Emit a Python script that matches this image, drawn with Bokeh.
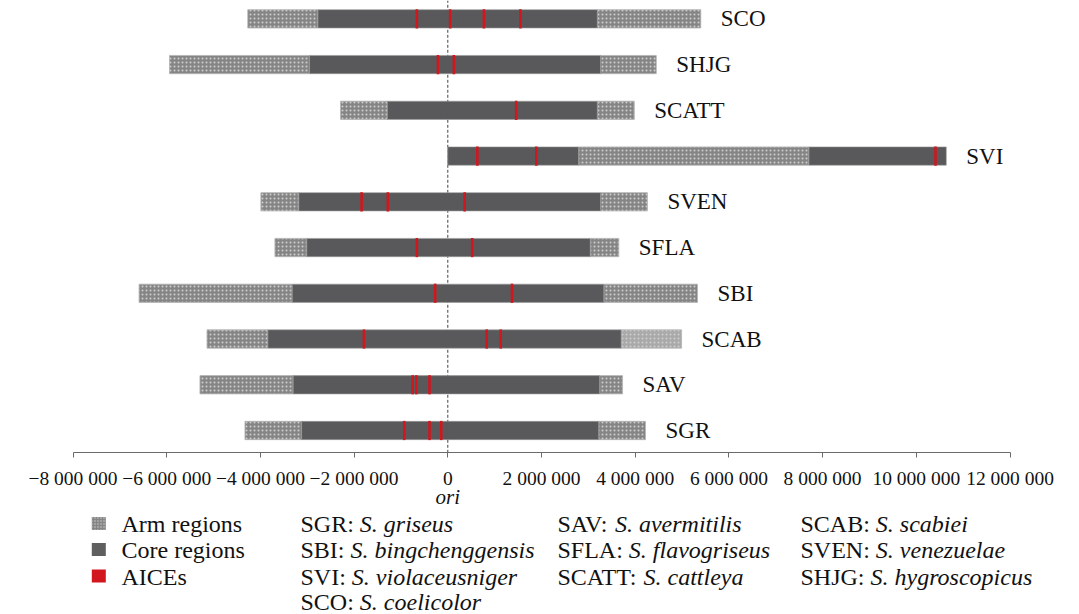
from bokeh.plotting import figure
from bokeh.models import Range1d, FixedTicker
from bokeh.core.properties import value
from bokeh.embed import file_html
from bokeh.resources import INLINE

# ---------------- data (bp) ----------------
genomes = ["SGR", "SAV", "SCAB", "SBI", "SFLA", "SVEN", "SVI", "SCATT", "SHJG", "SCO"]
left_arm_start = [-4.33e6, -5.29e6, -5.14e6, -6.59e6, -3.69e6, -3.99e6, 0.0, -2.29e6, -5.94e6, -4.27e6]
core_start = [-3.12e6, -3.30e6, -3.84e6, -3.32e6, -3.01e6, -3.18e6, 0.0, -1.29e6, -2.95e6, -2.77e6]
core_end = [3.22e6, 3.24e6, 3.70e6, 3.33e6, 3.04e6, 3.26e6, 2.79e6, 3.19e6, 3.26e6, 3.19e6]
right_arm_end = [4.22e6, 3.73e6, 4.99e6, 5.33e6, 3.65e6, 4.26e6, 7.71e6, 3.98e6, 4.45e6, 5.40e6]
# second core block of SVI (beyond its arm)
extra_core_genome = ["SVI"]
extra_core_start = [7.71e6]
extra_core_end = [10.64e6]

aice_genome = ["SGR", "SGR", "SGR",
               "SAV", "SAV", "SAV",
               "SCAB", "SCAB", "SCAB",
               "SBI", "SBI",
               "SFLA", "SFLA",
               "SVEN", "SVEN", "SVEN",
               "SVI", "SVI", "SVI",
               "SCATT",
               "SHJG", "SHJG",
               "SCO", "SCO", "SCO", "SCO"]
aice_pos = [-0.93e6, -0.39e6, -0.14e6,
            -0.75e6, -0.67e6, -0.39e6,
            -1.79e6, 0.83e6, 1.13e6,
            -0.27e6, 1.37e6,
            -0.66e6, 0.52e6,
            -1.84e6, -1.28e6, 0.36e6,
            0.63e6, 1.89e6, 10.41e6,
            1.46e6,
            -0.21e6, 0.13e6,
            -0.66e6, 0.05e6, 0.77e6, 1.55e6]

tick_values = [-8e6, -6e6, -4e6, -2e6, 0, 2e6, 4e6, 6e6, 8e6, 10e6, 12e6]
tick_labels = ["\u22128 000 000", "\u22126 000 000", "\u22124 000 000", "\u22122 000 000", "0",
               "2 000 000", "4 000 000", "6 000 000", "8 000 000", "10 000 000", "12 000 000"]
origin_label = "ori"

legend_keys = ["Arm regions", "Core regions", "AICEs"]
abbrev = ["SGR", "SBI", "SVI", "SCO", "SAV", "SFLA", "SCATT", "SCAB", "SVEN", "SHJG"]
species = ["S. griseus", "S. bingchenggensis", "S. violaceusniger", "S. coelicolor",
           "S. avermitilis", "S. flavogriseus", "S. cattleya",
           "S. scabiei", "S. venezuelae", "S. hygroscopicus"]

# ---------------- styles / layout ----------------
SERIF = "Liberation Serif"
CORE = "#59595b"
ARM = "#858585"
ARM_LIGHT = "#a9a9a9"
DOTS = "#cdcdcd"
RED = "#d2161e"
BAR_H = 0.40

W_PX, H_PX = 1079, 614
ORIGIN_PX, PX_PER_BP = 447.3, 46.85e-6      # horizontal placement of the scale
ROW0_PX, ROW_STEP_PX = 430.0, 45.74         # page y of first row, row spacing
AXIS_PX = 452.3
MID = 0.3375                                # em-box middle above the baseline


def row_y(py):
    """page pixel y -> row coordinate"""
    return (ROW0_PX - py) / ROW_STEP_PX


def col_x(px):
    """page pixel x -> bp coordinate"""
    return (px - ORIGIN_PX) / PX_PER_BP


idx = {g: i for i, g in enumerate(genomes)}

p = figure(width=W_PX, height=H_PX,
           x_range=Range1d(col_x(0), col_x(W_PX)), y_range=Range1d(row_y(H_PX), row_y(0)),
           output_backend="svg", toolbar_location=None, min_border=0,
           y_axis_location=None)
p.xgrid.visible = False
p.ygrid.visible = False
p.outline_line_color = None
p.background_fill_color = "#ffffff"

ys = list(range(len(genomes)))

# dashed origin line, from the axis up to the top
p.segment(x0=[0], y0=[row_y(AXIS_PX)], x1=[0], y1=[row_y(0)],
          line_dash="3 2", line_color="#444444", line_width=1)

# left arms
p.hbar(y=ys, left=left_arm_start, right=core_start, height=BAR_H,
       fill_color=ARM, line_color="#b5b5b5", line_width=0.8,
       hatch_pattern="dot", hatch_color=DOTS, hatch_scale=4, hatch_weight=1)
# right arms
arm_colors = [ARM_LIGHT if g == "SCAB" else ARM for g in genomes]
p.hbar(y=ys, left=core_end, right=right_arm_end, height=BAR_H,
       fill_color=arm_colors, line_color="#b5b5b5", line_width=0.8,
       hatch_pattern="dot", hatch_color=DOTS, hatch_scale=4, hatch_weight=1)
# core
p.hbar(y=ys, left=core_start, right=core_end, height=BAR_H,
       fill_color=CORE, line_color="#9a9a9a", line_width=0.6)
p.hbar(y=[idx[g] for g in extra_core_genome], left=extra_core_start, right=extra_core_end,
       height=BAR_H, fill_color=CORE, line_color="#9a9a9a", line_width=0.6)

# AICEs
p.rect(x=aice_pos, y=[idx[g] for g in aice_genome], width=2.6, width_units="screen",
       height=BAR_H + 0.02, fill_color=RED, line_color=None)

# genome labels at the right end of each bar
ends = list(right_arm_end)
for g, e in zip(extra_core_genome, extra_core_end):
    ends[idx[g]] = max(ends[idx[g]], e)
p.text(x=ends, y=ys, text=genomes, x_offset=20, text_baseline="middle",
       text_font=value(SERIF), text_font_size="23px", text_color="#111111")

# axis drawn at a fixed location inside the canvas
ax = p.xaxis[0]
ax.fixed_location = row_y(AXIS_PX)
ax.ticker = FixedTicker(ticks=tick_values)
ax.bounds = (-8e6, 12e6)
ax.major_label_overrides = {v: s for v, s in zip(tick_values, tick_labels)}
ax.major_label_text_font = SERIF
ax.major_label_text_font_size = "19.5px"
ax.major_label_text_color = "#111111"
ax.major_label_standoff = 10
ax.major_tick_in = 0
ax.major_tick_out = 5
ax.minor_tick_in = 0
ax.minor_tick_out = 0
ax.axis_line_color = "#6a6a6a"
ax.major_tick_line_color = "#6a6a6a"

# "ori" under the 0 tick (baseline at 503 px)
p.text(x=[0], y=[row_y(503.3 - MID * 21)], text=[origin_label], text_align="center",
       text_baseline="middle", text_font=value(SERIF), text_font_style="italic",
       text_font_size="21px", text_color="#111111")

# ---------------- legend ----------------
row_base = [532, 557.7, 584.3, 609.3]           # text baselines (px)
row_mid = [b - MID * 24 for b in row_base]
icon_y = [523, 549, 575.5]
icon_x = col_x(98.3)
icon_w = 14 / PX_PER_BP
icon_h = 13 / ROW_STEP_PX
p.rect(x=[icon_x], y=[row_y(icon_y[0])], width=icon_w, height=icon_h, fill_color=ARM,
       line_color=None, hatch_pattern="dot", hatch_color=DOTS, hatch_scale=3, hatch_weight=1)
p.rect(x=[icon_x], y=[row_y(icon_y[1])], width=icon_w, height=icon_h,
       fill_color="#5f5f5f", line_color=None)
p.rect(x=[icon_x], y=[row_y(icon_y[2])], width=icon_w, height=icon_h,
       fill_color=RED, line_color=None)
p.text(x=[col_x(121)] * 3, y=[row_y(m) for m in row_mid[:3]], text=legend_keys,
       text_baseline="middle", text_font=value(SERIF), text_font_size="24px",
       text_color="#111111")

# Times/Liberation Serif advance widths (per 1000 em), with the kerning of "AV"/"AT"
W = {" ": 250, ":": 278, "S": 556, "G": 722, "R": 667, "B": 667, "I": 333, "V": 722,
     "C": 667, "O": 722, "A": 722, "F": 556, "L": 611, "T": 611, "E": 611, "N": 722,
     "H": 722, "J": 389}
KERN = {"AV": -135, "AT": -111}
cols_px = [300, 557, 800]
positions = [(0, 0), (0, 1), (0, 2), (0, 3), (1, 0), (1, 1), (1, 2), (2, 0), (2, 1), (2, 2)]
ax_, ay_, ix_, iy_ = [], [], [], []
for (c, r), a in zip(positions, abbrev):
    s = a + ": "
    units = sum(W[ch] for ch in s) + sum(KERN.get(s[k:k + 2], 0) for k in range(len(s) - 1))
    w = units / 1000 * 24
    ax_.append(col_x(cols_px[c])); ay_.append(row_y(row_mid[r]))
    ix_.append(col_x(cols_px[c] + w)); iy_.append(row_y(row_mid[r]))
p.text(x=ax_, y=ay_, text=[a + ":" for a in abbrev], text_baseline="middle",
       text_font=value(SERIF), text_font_size="24px", text_color="#111111")
p.text(x=ix_, y=iy_, text=species, text_baseline="middle",
       text_font=value(SERIF), text_font_style="italic", text_font_size="24px",
       text_color="#111111")

open("out.html", "w").write(file_html(p, INLINE))
